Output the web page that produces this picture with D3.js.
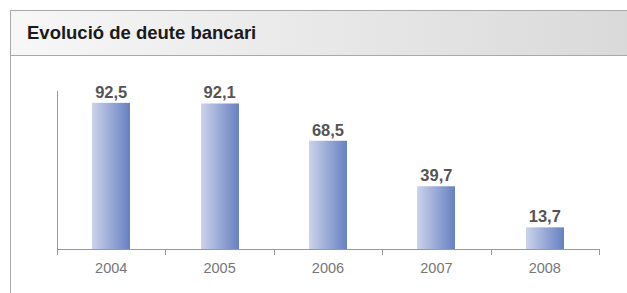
<!DOCTYPE html>
<html>
<head>
<meta charset="utf-8">
<script src="https://cdn.jsdelivr.net/npm/d3@7"></script>
<style>
  body { margin: 0; background: #fff; }
  svg { display: block; font-family: "Liberation Sans", Arial, sans-serif; }
</style>
</head>
<body>
<div id="chart"></div>
<script>
// data
const years = ["2004", "2005", "2006", "2007", "2008"];
const values = [92.5, 92.1, 68.5, 39.7, 13.7];
const labels = ["92,5", "92,1", "68,5", "39,7", "13,7"];

const width = 627, height = 293;

let svg = d3.select("#chart")
    .append("svg")
    .attr("width", width)
    .attr("height", height);

let defs = svg.append("defs");

// header gradient
let hg = defs.append("linearGradient").attr("id", "headGrad");
hg.append("stop").attr("offset", "0%").attr("stop-color", "#f7f7f7");
hg.append("stop").attr("offset", "100%").attr("stop-color", "#d9d9d9");

// bar gradient
let bg = defs.append("linearGradient").attr("id", "barGrad");
bg.append("stop").attr("offset", "0%").attr("stop-color", "#ccd3eb");
bg.append("stop").attr("offset", "100%").attr("stop-color", "#6680c2");

// Frame + header
svg.append("rect")
    .attr("x", 10.5).attr("y", 10.5)
    .attr("width", width).attr("height", 45)
    .attr("fill", "url(#headGrad)")
    .attr("stroke", "#a9a9a9");

svg.append("line")
    .attr("x1", 10.5).attr("x2", 10.5)
    .attr("y1", 10).attr("y2", height)
    .attr("stroke", "#a9a9a9");

svg.append("text")
    .attr("x", 27).attr("y", 39)
    .attr("font-size", 18.5)
    .attr("font-weight", "bold")
    .attr("fill", "#1a1a1a")
    .text("Evolució de deute bancari");

// scales
let x = d3.scaleBand().domain(years).range([57, 599]).paddingInner(0).paddingOuter(0);
let y = d3.scaleLinear().domain([0, 100]).range([249, 91]);

let barW = 38;

// y axis line
svg.append("line")
    .attr("x1", 57.5).attr("x2", 57.5)
    .attr("y1", y(100)).attr("y2", y(0))
    .attr("stroke", "#999");

// x axis line
svg.append("line")
    .attr("x1", 57).attr("x2", 599)
    .attr("y1", y(0) + 0.5).attr("y2", y(0) + 0.5)
    .attr("stroke", "#999");

// band boundary ticks
let bounds = years.map(d => x(d)).concat([x(years[years.length - 1]) + x.bandwidth()]);
svg.selectAll(".tick-b")
    .data(bounds)
    .join("line")
    .attr("class", "tick-b")
    .attr("x1", d => Math.round(d) + 0.5).attr("x2", d => Math.round(d) + 0.5)
    .attr("y1", y(0)).attr("y2", y(0) + 6)
    .attr("stroke", "#999");

// bars
svg.selectAll(".bar")
    .data(values)
    .join("rect")
    .attr("class", "bar")
    .attr("x", (d, i) => Math.round(x(years[i]) + x.bandwidth() / 2 - barW / 2))
    .attr("y", d => y(d))
    .attr("width", barW)
    .attr("height", d => y(0) - y(d))
    .attr("fill", "url(#barGrad)");

// value labels
svg.selectAll(".val")
    .data(values)
    .join("text")
    .attr("class", "val")
    .attr("x", (d, i) => x(years[i]) + x.bandwidth() / 2)
    .attr("y", d => y(d) - 5)
    .attr("text-anchor", "middle")
    .attr("font-size", 16.5)
    .attr("font-weight", "bold")
    .attr("fill", "#555")
    .text((d, i) => labels[i]);

// year labels
svg.selectAll(".yr")
    .data(years)
    .join("text")
    .attr("class", "yr")
    .attr("x", d => x(d) + x.bandwidth() / 2)
    .attr("y", 273)
    .attr("text-anchor", "middle")
    .attr("font-size", 14.5)
    .attr("fill", "#777")
    .text(d => d);
</script>
</body>
</html>
